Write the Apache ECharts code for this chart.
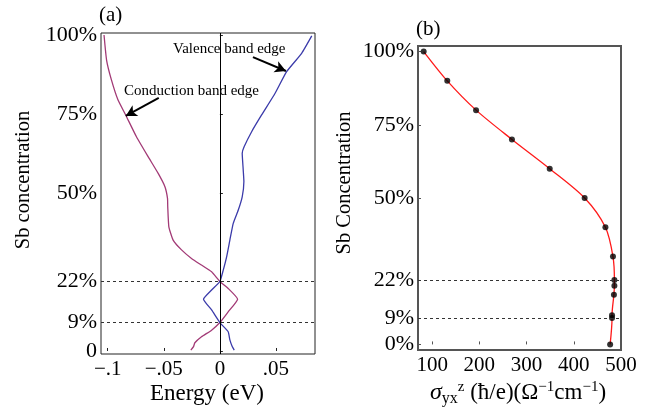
<!DOCTYPE html>
<html>
<head>
<meta charset="utf-8">
<script src="https://cdn.jsdelivr.net/npm/echarts@6/dist/echarts.min.js"></script>
<style>html,body{margin:0;padding:0;background:#fff}#c{width:656px;height:411px}</style>
</head>
<body>
<div id="c"></div>
<script>
// Panel (a): band edges vs Sb concentration
const condConc = [100, 92, 85.8, 79.4, 74.7, 67.8, 61.5, 56.2, 52, 48.3, 45.7, 39.3, 35.1, 32, 29.3, 27.2, 25.1, 22, 19.8, 16.4, 12.4, 9, 6.6, 4.5, 2.6, 1.4, 0.3];
const condE = [-0.1033, -0.101, -0.0967, -0.0908, -0.084, -0.0744, -0.064, -0.055, -0.049, -0.0467, -0.0465, -0.0455, -0.0417, -0.0342, -0.0253, -0.0164, -0.0074, 0, 0.0074, 0.0158, 0.0074, 0, -0.0074, -0.0164, -0.0223, -0.0235, -0.0259];
const valConc = [99.7, 94.2, 88.4, 81.5, 74.7, 69.4, 64.7, 62.6, 57.3, 53.6, 48.8, 44.6, 40.4, 35.1, 29.8, 25.6, 22, 19.3, 16.4, 13, 9, 6.1, 3.5, 1.4, 0.3];
const valE = [0.0819, 0.0729, 0.0595, 0.0491, 0.0372, 0.0283, 0.0217, 0.0199, 0.0208, 0.0214, 0.0199, 0.0164, 0.0119, 0.0089, 0.006, 0.003, 0, -0.0074, -0.0146, -0.0074, 0, 0.0074, 0.0089, 0.011, 0.0128];
const aYTicks = [0, 9, 22, 50, 75, 100];
const aYLabels = ['0', '9%', '22%', '50%', '75%', '100%'];
const aXTicks = [-0.1, -0.05, 0, 0.05];
const aXLabels = ['\u2212.1', '\u2212.05', '0', '.05'];
const dashedConc = [22, 9];
// Panel (b): sigma_yx^z vs Sb concentration
const bConc = [0, 9, 10, 17, 20, 22, 30, 40, 50, 60, 70, 80, 90, 100];
const bSigma = [477, 481, 481, 485, 486, 486, 483, 467, 423, 349, 269, 193, 132, 82];
const bYTicks = [0, 9, 22, 50, 75, 100];
const bYLabels = ['0%', '9%', '22%', '50%', '75%', '100%'];
const bXTicks = [100, 200, 300, 400, 500];

const FONT = "'Liberation Serif','DejaVu Serif',serif";
const chart = echarts.init(document.getElementById('c'));
const pair = (xs, ys) => xs.map((x, i) => [x, ys[i]]);
const lab = (vals, labels) => v => { const i = vals.findIndex(t => Math.abs(t - v) < 1e-9); return i >= 0 ? labels[i] : ''; };

chart.setOption({
  animation: false,
  grid: [
    {left: 101, top: 33, width: 214, height: 321, show: true, borderColor: '#222', borderWidth: 1, backgroundColor: 'transparent'},
    {left: 418, top: 46, width: 203, height: 304, show: true, borderColor: '#555', borderWidth: 2, backgroundColor: 'transparent'}
  ],
  xAxis: [
    {type: 'value', gridIndex: 0, min: -0.106, max: 0.0848, splitLine: {show: false},
     axisLine: {show: false},
     axisTick: {show: true, inside: true, length: 3, customValues: aXTicks, lineStyle: {color: '#222'}},
     axisLabel: {customValues: aXTicks, formatter: lab(aXTicks, aXLabels), fontFamily: FONT, fontSize: 21, color: '#000', margin: 5}},
    {type: 'value', gridIndex: 1, min: 70, max: 500, splitLine: {show: false},
     axisLine: {show: false},
     axisTick: {show: true, inside: true, length: 3, customValues: bXTicks, lineStyle: {color: '#555'}},
     axisLabel: {customValues: bXTicks, fontFamily: FONT, fontSize: 21, color: '#000', margin: 5}}
  ],
  yAxis: [
    {type: 'value', gridIndex: 0, min: -0.95, max: 100.63, splitLine: {show: false},
     axisLine: {show: false},
     axisTick: {show: true, inside: true, length: 3, customValues: aYTicks, lineStyle: {color: '#222'}},
     axisLabel: {customValues: aYTicks, formatter: lab(aYTicks, aYLabels), fontFamily: FONT, fontSize: 22, color: '#000', margin: 4}},
    {type: 'value', gridIndex: 1, min: -1.9, max: 101.9, splitLine: {show: false},
     axisLine: {show: false},
     axisTick: {show: true, inside: true, length: 3, customValues: bYTicks, lineStyle: {color: '#555'}},
     axisLabel: {customValues: bYTicks, formatter: lab(bYTicks, bYLabels), fontFamily: FONT, fontSize: 22, color: '#000', margin: 4}}
  ],
  series: [
    {name: 'Conduction band edge', type: 'line', xAxisIndex: 0, yAxisIndex: 0, data: pair(condE, condConc),
     showSymbol: false, symbol: 'none', smooth: 0.15, lineStyle: {color: '#a23a76', width: 1.3}, z: 3,
     markLine: {silent: true, symbol: ['none', 'arrow'], symbolSize: [9, 11], label: {show: false},
       lineStyle: {color: '#000', width: 2, type: 'solid'},
       data: [
         [{coord: [-0.0545, 80.1]}, {coord: [-0.0839, 74.4]}],
         [{coord: [0.0295, 93.0]}, {coord: [0.0589, 88.6]}]
       ]}},
    {name: 'Valence band edge', type: 'line', xAxisIndex: 0, yAxisIndex: 0, data: pair(valE, valConc),
     showSymbol: false, symbol: 'none', smooth: 0.15, lineStyle: {color: '#3b3baa', width: 1.3}, z: 3,
     markLine: {silent: true, symbol: ['none', 'none'], label: {show: false},
       data: [
         {xAxis: 0, lineStyle: {color: '#000', width: 1, type: 'solid'}},
         ...dashedConc.map(c => ({yAxis: c, lineStyle: {color: '#333', width: 1, type: [3, 3]}}))
       ]}},
    {name: 'fit', type: 'line', xAxisIndex: 1, yAxisIndex: 1, data: pair(bSigma, bConc),
     smooth: 0.3, showSymbol: false, symbol: 'none', lineStyle: {color: '#ff1a1a', width: 1.3}, z: 3,
     markLine: {silent: true, symbol: ['none', 'none'], label: {show: false},
       data: dashedConc.map(c => ({yAxis: c, lineStyle: {color: '#333', width: 1, type: [3, 3]}}))}},
    {name: 'points', type: 'scatter', xAxisIndex: 1, yAxisIndex: 1, data: pair(bSigma, bConc),
     symbol: 'circle', symbolSize: 6, itemStyle: {color: '#000'}, z: 4}
  ],
  graphic: [
    {type: 'text', left: 99, top: 5, style: {text: '(a)', font: '21px ' + FONT, fill: '#000'}},
    {type: 'text', left: 416, top: 19, style: {text: '(b)', font: '21px ' + FONT, fill: '#000'}},
    {type: 'text', x: 173, y: 49, style: {text: 'Valence band edge', font: '15px ' + FONT, fill: '#000', verticalAlign: 'middle'}},
    {type: 'text', x: 124, y: 91, style: {text: 'Conduction band edge', font: '15px ' + FONT, fill: '#000', verticalAlign: 'middle'}},
    {type: 'text', x: 24, y: 180, rotation: Math.PI / 2, style: {text: 'Sb concentration', font: '20.5px ' + FONT, fill: '#000', align: 'center', verticalAlign: 'middle'}},
    {type: 'text', x: 345, y: 183, rotation: Math.PI / 2, style: {text: 'Sb Concentration', font: '20.5px ' + FONT, fill: '#000', align: 'center', verticalAlign: 'middle'}},
    {type: 'text', x: 207, y: 394, style: {text: 'Energy (eV)', font: '23px ' + FONT, fill: '#000', align: 'center', verticalAlign: 'middle'}},
    {type: 'text', x: 518, y: 393, style: {
      text: '{s|\u03c3}{sub|yx}{sup|z} (\u0127/e)(\u03a9{sup|\u22121}cm{sup|\u22121})',
      font: '23px ' + FONT, fill: '#000', align: 'center', verticalAlign: 'middle',
      rich: {
        s: {fontFamily: FONT, fontSize: 24, fontStyle: 'italic'},
        sub: {fontFamily: FONT, fontSize: 16, padding: [12, 0, 0, 0]},
        sup: {fontFamily: FONT, fontSize: 15, padding: [0, 0, 12, 0]}
      }}}
  ]
});
</script>
</body>
</html>
